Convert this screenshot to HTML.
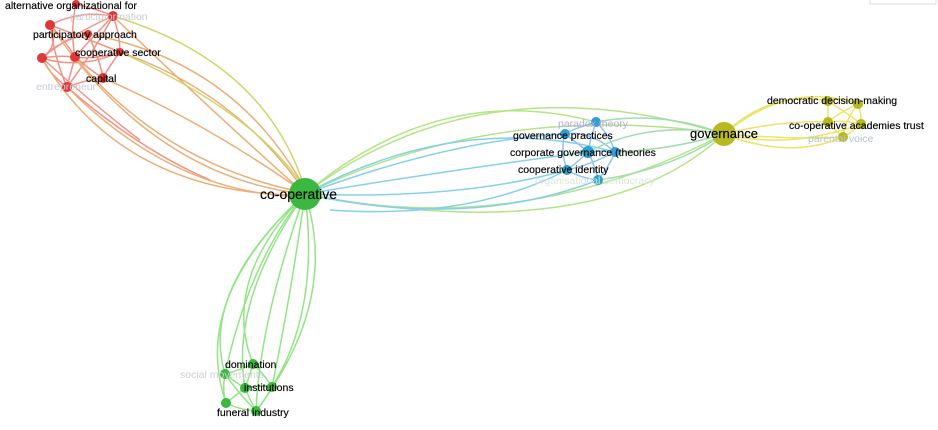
<!DOCTYPE html>
<html><head><meta charset="utf-8"><style>
html,body{margin:0;padding:0;background:#fff;}
svg{display:block}
text{font-family:"Liberation Sans","DejaVu Sans",sans-serif;}
</style></head><body>
<svg width="938" height="430" viewBox="0 0 938 430" xmlns="http://www.w3.org/2000/svg">
<rect x="870" y="-2" width="66" height="6" fill="none" stroke="#ddd"/>
<g fill="none" stroke-width="1.5" opacity="0.85">
<g stroke="#f08070">
<path d="M50 25 Q80 10 113 16"/><path d="M50 25 Q60 45 42 58"/><path d="M50 25 Q65 40 75 57"/>
<path d="M50 25 Q90 40 120 52"/><path d="M50 25 Q55 60 67 87"/><path d="M113 16 Q90 40 75 57"/>
<path d="M113 16 Q120 35 120 52"/><path d="M113 16 Q95 50 67 87"/><path d="M113 16 Q70 35 42 58"/>
<path d="M42 58 Q60 55 75 57"/><path d="M42 58 Q50 75 67 87"/><path d="M42 58 Q80 70 120 52"/>
<path d="M75 57 Q70 75 67 87"/><path d="M75 57 Q95 60 120 52"/><path d="M75 57 Q90 70 103 78"/>
<path d="M67 87 Q85 80 103 78"/><path d="M120 52 Q110 65 103 78"/><path d="M88 34 Q60 40 42 58"/>
<path d="M88 34 Q100 60 103 78"/><path d="M76 4 Q70 30 75 57"/><path d="M76 4 Q100 10 113 16"/>
<path d="M42 58 Q100 110 140 140"/><path d="M67 87 Q140 150 210 180"/>
</g>
<g stroke="#e8a060">
<path d="M50 25 Q150 170 290 192"/><path d="M113 16 Q200 100 295 185"/><path d="M42 58 Q120 190 290 195"/>
<path d="M67 87 Q170 190 290 196"/><path d="M103 78 Q200 120 295 186"/><path d="M120 52 Q230 90 298 182"/>
<path d="M75 57 Q160 160 292 190"/><path d="M88 34 Q230 60 300 180"/>
</g>
<g stroke="#c8d050"><path d="M113 16 Q260 60 302 180"/><path d="M120 52 Q250 110 300 182"/></g>
<g stroke="#a8e070">
<path d="M305 194 Q480 60 724 134"/><path d="M305 194 Q500 100 724 134"/><path d="M305 194 Q520 240 724 134"/>
<path d="M305 194 Q600 250 724 134"/><path d="M305 194 Q440 80 596 122"/>
</g>
<g stroke="#70c8e8">
<path d="M305 194 Q450 140 565 134"/><path d="M305 194 Q450 170 588 152"/><path d="M305 194 Q460 200 567 170"/>
<path d="M305 194 Q470 230 598 180"/><path d="M305 194 Q460 110 615 152"/><path d="M330 210 Q470 220 567 170"/>
</g>
<g stroke="#80b8f0">
<path d="M596 122 Q590 140 588 152"/><path d="M565 134 Q580 145 588 152"/><path d="M565 134 Q590 130 615 152"/>
<path d="M588 152 Q600 150 615 152"/><path d="M567 170 Q580 160 588 152"/><path d="M567 170 Q590 165 615 152"/>
<path d="M598 180 Q595 165 588 152"/><path d="M598 180 Q610 165 615 152"/><path d="M596 122 Q610 135 615 152"/>
<path d="M565 134 Q560 150 567 170"/><path d="M596 122 Q570 130 565 134"/><path d="M567 170 Q580 178 598 180"/>
</g>
<g stroke="#90d8a0">
<path d="M596 122 Q660 110 724 134"/><path d="M615 152 Q670 150 724 134"/><path d="M598 180 Q670 170 724 134"/>
<path d="M588 152 Q650 120 724 134"/>
</g>
<g stroke="#e8e050">
<path d="M724 134 Q770 90 828 101"/><path d="M724 134 Q790 80 858 104"/><path d="M724 134 Q780 120 828 122"/>
<path d="M724 134 Q790 150 861 124"/><path d="M724 134 Q790 160 843 137"/><path d="M724 134 Q800 140 843 137"/>
<path d="M828 101 Q843 96 858 104"/><path d="M828 101 Q828 112 828 122"/><path d="M858 104 Q862 115 861 124"/>
<path d="M828 101 Q850 115 861 124"/><path d="M858 104 Q840 112 828 122"/><path d="M828 122 Q845 120 861 124"/>
<path d="M843 137 Q835 130 828 122"/><path d="M843 137 Q855 130 861 124"/><path d="M858 104 Q845 120 843 137"/>
</g>
<g stroke="#80e070">
<path d="M305 194 Q220 280 253 364"/><path d="M305 194 Q200 290 225 374"/><path d="M305 194 Q230 300 245 388"/>
<path d="M305 194 Q290 300 272 387"/><path d="M305 194 Q190 300 226 403"/><path d="M305 194 Q260 320 256 411"/>
<path d="M305 194 Q340 300 256 411"/><path d="M305 194 Q320 310 272 387"/><path d="M305 194 Q250 260 225 374"/>
<path d="M253 364 Q240 370 225 374"/><path d="M253 364 Q250 375 245 388"/><path d="M253 364 Q265 375 272 387"/>
<path d="M225 374 Q235 382 245 388"/><path d="M225 374 Q222 390 226 403"/><path d="M245 388 Q260 385 272 387"/>
<path d="M245 388 Q235 396 226 403"/><path d="M245 388 Q250 400 256 411"/><path d="M226 403 Q240 410 256 411"/>
<path d="M272 387 Q265 400 256 411"/><path d="M225 374 Q240 395 256 411"/>
</g>
</g>
<g fill="#e0383a">
<circle cx="50" cy="25" r="5"/><circle cx="113" cy="16" r="5"/><circle cx="76" cy="4" r="4"/>
<circle cx="42" cy="58" r="5"/><circle cx="75" cy="57" r="5"/><circle cx="120" cy="52" r="4"/>
<circle cx="67" cy="87" r="5"/><circle cx="103" cy="78" r="5"/><circle cx="88" cy="34" r="4"/>
</g>
<g fill="#2e9fd0">
<circle cx="596" cy="122" r="5"/><circle cx="565" cy="134" r="5"/><circle cx="588" cy="152" r="6"/>
<circle cx="615" cy="152" r="5"/><circle cx="567" cy="170" r="5"/><circle cx="598" cy="180" r="5"/>
</g>
<g fill="#b8b820">
<circle cx="724" cy="134" r="12"/><circle cx="828" cy="101" r="5"/><circle cx="858" cy="104" r="5"/>
<circle cx="828" cy="122" r="5"/><circle cx="861" cy="124" r="5"/><circle cx="843" cy="137" r="5"/>
</g>
<g fill="#3ab840">
<circle cx="305" cy="194" r="16"/><circle cx="253" cy="364" r="5"/><circle cx="225" cy="374" r="5"/>
<circle cx="245" cy="388" r="5"/><circle cx="272" cy="387" r="5"/><circle cx="226" cy="403" r="5"/><circle cx="256" cy="411" r="5"/>
</g>
<g font-size="10.5" fill="#000" stroke="#000" stroke-width="0.15">
<text x="5" y="9">alternative organizational for</text>
<text x="70" y="20" fill="#c8ccd8" stroke="none">participformation</text>
<text x="33" y="38">participatory approach</text>
<text x="75" y="56">cooperative sector</text>
<text x="86" y="82">capital</text>
<text x="36" y="90" fill="#c8ccd8" stroke="none">entrepreneur</text>
<text x="260" y="199" font-size="14">co-operative</text>
<text x="558" y="127" fill="#c0a8d8" stroke="none">paradox theory</text>
<text x="513" y="139">governance practices</text>
<text x="510" y="156">corporate governance (theories</text>
<text x="518" y="173">cooperative identity</text>
<text x="535" y="184" fill="#d8e8d8" stroke="none">organisational democracy</text>
<text x="690" y="138" font-size="13">governance</text>
<text x="767" y="104">democratic decision-making</text>
<text x="789" y="129">co-operative academies trust</text>
<text x="808" y="142" fill="#b8c4d0" stroke="none">parental voice</text>
<text x="225" y="368">domination</text>
<text x="180" y="378" fill="#d0d0d0" stroke="none">social movements</text>
<text x="244" y="391">institutions</text>
<text x="217" y="416">funeral industry</text>
</g>
</svg>
</body></html>
